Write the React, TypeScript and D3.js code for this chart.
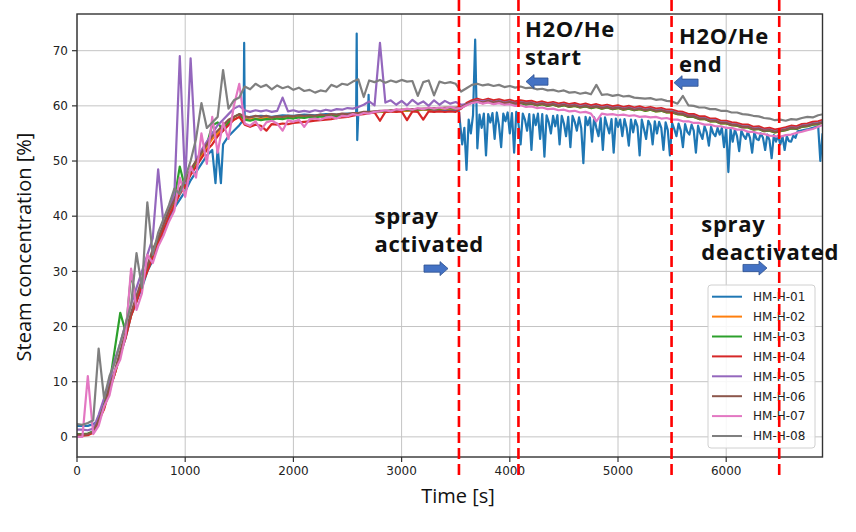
import React from 'react';
import * as d3 from 'd3';

// ---------- data ----------
const SERIES_NAMES = ['HM-H-01', 'HM-H-02', 'HM-H-03', 'HM-H-04', 'HM-H-05', 'HM-H-06', 'HM-H-07', 'HM-H-08'];
const SERIES_COLORS = ['#1f77b4', '#ff7f0e', '#2ca02c', '#d62728', '#9467bd', '#8c564b', '#e377c2', '#7f7f7f'];
const X_TICKS = [0, 1000, 2000, 3000, 4000, 5000, 6000];
const Y_TICKS = [0, 10, 20, 30, 40, 50, 60, 70];
const X_DOMAIN = [0, 6890];
const Y_DOMAIN = [-3.65, 76.65];

// common sampling grid (s) for HM-H-02..08
const GRID_START = 0;
const GRID_END = 6900;
const GRID_STEP = 50;

const H02 = [
  0.3, 0.3, 0.4, 0.8, 2.8, 5.2, 8.5, 11.5, 15, 18.5,
  22, 25, 28, 30.5, 33.5, 35.5, 38, 40.5, 42.5, 44.5,
  46, 48, 49.5, 51, 52.5, 54, 55, 56, 57, 57.5,
  58, 57.6, 57.5, 57.7, 57.6, 57.8, 57.6, 57.8, 57.7, 57.9,
  57.8, 58, 57.9, 58.1, 58, 58.2, 58.1, 58.3, 58.2, 58.4,
  58.3, 58.5, 58.5, 58.7, 58.7, 58.8, 58.9, 58.9, 59, 59,
  59.1, 59.1, 59.2, 59.2, 59.3, 59.3, 59.4, 59.4, 59.5, 59.5,
  59.5, 59.7, 60.2, 60.6, 60.8, 60.5, 60.8, 60.5, 60.7, 60.4,
  60.6, 60.3, 60.5, 60.3, 60.4, 60.1, 60.3, 60, 60.2, 59.9,
  60.1, 59.8, 60, 59.7, 59.9, 59.6, 59.8, 59.5, 59.7, 59.4,
  59.6, 59.3, 59.5, 59.2, 59.4, 59.1, 59.3, 59, 59.1, 58.8,
  58.8, 58.5, 58.4, 58, 58, 57.6, 57.6, 57.2, 57.2, 56.8,
  56.8, 56.5, 56.4, 56.1, 56.1, 55.7, 55.8, 55.4, 55.5, 55.2,
  55.4, 55.6, 55.9, 55.8, 56.2, 56.3, 56.6, 56.7, 57,
];

const H03 = [
  0.5, 0.5, 0.6, 1, 3.5, 6, 9.5, 16, 22.5, 19,
  29.5, 25, 28, 31, 33.5, 36, 38, 41, 43, 49,
  45, 48, 50, 51.5, 53, 56.5, 57, 55.5, 57, 58,
  58.5, 57.5, 57.3, 57.6, 57.4, 57.6, 57.5, 57.7, 57.6, 57.8,
  57.7, 57.9, 57.8, 58, 57.9, 58.1, 58, 58.2, 58.1, 58.3,
  58.3, 58.5, 58.5, 58.7, 58.8, 58.9, 59, 59, 59.1, 59.1,
  59.2, 59.2, 59.3, 59.3, 59.4, 59.4, 59.5, 59.5, 59.6, 59.6,
  59.5, 59.6, 60.2, 60.6, 60.8, 60.5, 60.7, 60.4, 60.6, 60.3,
  60.6, 60.3, 60.5, 60.2, 60.4, 60.1, 60.3, 60, 60.2, 59.9,
  60.1, 59.8, 60, 59.7, 59.9, 59.6, 59.8, 59.5, 59.7, 59.4,
  59.6, 59.3, 59.5, 59.2, 59.4, 59.1, 59.3, 59, 59.1, 58.8,
  58.8, 58.5, 58.4, 58, 58, 57.6, 57.6, 57.2, 57.2, 56.8,
  56.8, 56.5, 56.4, 56.1, 56.1, 55.7, 55.8, 55.4, 55.5, 55.2,
  55.4, 55.6, 55.9, 55.8, 56.2, 56.3, 56.6, 56.7, 57,
];

const H04 = [
  0.2, 0.2, 0.3, 0.8, 3, 5, 8.5, 11.5, 15, 18,
  22, 24.5, 27.5, 30, 32.5, 35, 37.5, 40, 42, 44,
  45.5, 47.5, 49, 50.5, 52, 53, 54.5, 55.5, 56.5, 57.5,
  58, 56.6, 56.2, 56.6, 56.4, 55.5, 56.7, 56.6, 56.8, 56.7,
  56.9, 57, 57.1, 57.2, 57.3, 57.4, 57.5, 57.6, 57.8, 57.9,
  58, 58.2, 58.4, 58.5, 58.7, 58.8, 57.3, 58.9, 59, 58.9,
  59, 57.4, 59, 58.9, 57.5, 59, 58.9, 59, 58.9, 59,
  58.9, 59.5, 60.5, 61, 61.3, 61, 61.3, 61, 61.2, 60.9,
  61.1, 60.8, 61, 60.8, 60.9, 60.6, 60.8, 60.5, 60.7, 60.4,
  60.6, 60.3, 60.5, 60.2, 60.4, 60.1, 60.3, 60, 60.2, 59.9,
  60.1, 59.8, 60, 59.7, 59.9, 59.6, 59.8, 59.5, 59.6, 59.3,
  59.3, 59, 58.9, 58.5, 58.5, 58.1, 58.1, 57.7, 57.7, 57.3,
  57.3, 57, 56.9, 56.6, 56.6, 56.2, 56.3, 55.9, 56, 55.7,
  55.9, 56.1, 56.4, 56.3, 56.7, 56.8, 57.1, 57.2, 57.5,
];

const H05 = [
  1.3, 1.3, 1.2, 1.5, 4, 7, 10, 14, 17, 20.5,
  24, 27, 30, 33, 36, 48.5, 38.5, 41, 44, 69,
  46, 68.6, 50, 52, 53.5, 55, 56.5, 57.5, 58.5, 59.5,
  60, 59.2, 58.9, 59.2, 59, 59.2, 58.9, 59.1, 61.5, 59,
  59.2, 58.9, 59.1, 58.9, 59.2, 59, 59.3, 59.1, 59.4, 59.3,
  59.6, 59.5, 59.8, 60.2, 60.8, 60.1, 71.4, 60.6, 61, 60.2,
  60.9, 60.1, 61.1, 60.3, 60.8, 60, 61, 60.2, 60.9, 60.4,
  60.7, 60.2, 60.3, 60.7, 61, 60.8, 61, 60.7, 60.9, 60.6,
  60.8, 60.5, 60.7, 60.5, 60.6, 60.3, 60.5, 60.2, 60.4, 60.1,
  60.3, 60, 60.2, 59.9, 60.1, 59.8, 60, 59.7, 59.9, 59.6,
  59.8, 59.5, 59.7, 59.4, 59.6, 59.3, 59.5, 59.2, 59.3, 59,
  59, 58.7, 58.6, 58.2, 58.2, 57.8, 57.8, 57.4, 57.4, 57,
  57, 56.7, 56.6, 56.3, 56.3, 55.9, 56, 55.6, 55.7, 55.4,
  55.6, 55.8, 56.1, 56, 56.4, 56.5, 56.8, 56.9, 57.2,
];

const H06 = [
  0.4, 0.4, 0.5, 0.9, 3, 5.5, 9, 12, 15.5, 19,
  22.5, 25.5, 28.5, 31, 34, 36, 38.5, 41, 43, 45,
  46.5, 48.5, 50, 51.5, 53, 54.5, 55.5, 56.5, 57.5, 58,
  58.5, 58.1, 57.9, 58.2, 58, 58.2, 57.9, 58.1, 58, 58.2,
  58.1, 58.3, 58.2, 58.3, 58.2, 58.4, 58.3, 58.5, 58.4, 58.6,
  58.5, 58.7, 58.7, 58.9, 58.9, 59, 59.1, 59.1, 59.2, 59.2,
  59.3, 59.3, 59.4, 59.4, 59.5, 59.5, 59.6, 59.6, 59.7, 59.7,
  59.7, 59.8, 60.3, 60.7, 60.9, 60.6, 60.9, 60.6, 60.8, 60.5,
  60.7, 60.4, 60.6, 60.4, 60.5, 60.2, 60.4, 60.1, 60.3, 60,
  60.2, 59.9, 60.1, 59.8, 60, 59.7, 59.9, 59.6, 59.8, 59.5,
  59.7, 59.4, 59.6, 59.3, 59.5, 59.2, 59.4, 59.1, 59.2, 58.9,
  58.9, 58.6, 58.5, 58.1, 58.1, 57.7, 57.7, 57.3, 57.3, 56.9,
  56.9, 56.6, 56.5, 56.2, 56.2, 55.8, 55.9, 55.5, 55.6, 55.3,
  55.5, 55.7, 56, 55.9, 56.3, 56.4, 56.7, 56.8, 57.1,
];

const H07 = [
  0, 0, 11, 0.5, 2, 5.5, 7.5, 12, 14, 18.5,
  30.5, 23, 26, 33, 31.5, 34.5, 36.5, 39, 41, 47,
  43.5, 49, 47, 55, 49.5, 58, 51.5, 57, 54, 60,
  64, 56.8, 56.4, 57.2, 55.6, 57, 57.3, 56.8, 55.5, 57.4,
  57.1, 57.5, 56.2, 57.6, 57.7, 57.5, 57.9, 58, 57.7, 58.2,
  58.1, 58.5, 58.3, 58.7, 58.6, 58.9, 59, 59.2, 59, 59.4,
  59.2, 59.5, 59.3, 59.6, 59.4, 59.7, 59.5, 59.7, 59.5, 59.8,
  59.5, 59.6, 60.1, 60.5, 60.7, 60.4, 60.6, 60.3, 60.5, 60.2,
  60.3, 60, 60.1, 59.8, 59.9, 59.6, 59.7, 59.4, 59.5, 59.2,
  59.3, 59, 59.1, 58.8, 58.9, 58.6, 57.2, 58.6, 58.4, 58.5,
  58.3, 58.4, 58.2, 58.3, 58, 58.1, 57.9, 58, 57.7, 57.8,
  57.5, 57.5, 57.2, 57.2, 56.9, 56.9, 56.6, 56.6, 56.3, 56.3,
  56, 56, 55.7, 55.7, 55.3, 55.3, 55, 54.9, 54.6, 54.5,
  54.4, 54.7, 54.8, 55.1, 55.3, 55.6, 55.8, 56.2, 56.6,
];

const H08 = [
  2.3, 2.2, 2.5, 3, 16, 7, 11, 13.5, 17, 20.5,
  24, 33.3, 27, 42.5, 33, 37, 39.5, 42, 45, 44,
  47, 50, 54, 60.5, 56, 57, 58, 66.5, 59.5, 61,
  61.5, 63.5, 63, 64, 63.4, 63.8, 63, 63.7, 63.2, 63.5,
  62.9, 63.3, 62.7, 62.9, 62.4, 62.8, 62.6, 63.8, 63.4, 64,
  63.8, 64.4, 64.8, 61.6, 64.6, 64.3, 64.7, 64.2, 64.6, 64.3,
  64.7, 64.4, 64.5, 61.8, 64.3, 64.6, 61.9, 64.4, 64.1, 64.3,
  64, 62.6, 63.2, 63.8, 64, 63.7, 63.9, 63.6, 63.8, 63.4,
  63.6, 63.3, 63.5, 63.2, 63.3, 63, 63.1, 62.8, 62.9, 62.6,
  62.8, 62.4, 62.5, 62.2, 62.4, 62.1, 63.8, 62, 62.1, 61.8,
  62, 61.7, 61.8, 61.5, 61.4, 61.3, 61.4, 61.1, 61.2, 60.9,
  60.8, 60.4, 61.8, 60.1, 60, 59.7, 59.7, 59.4, 59.4, 59.1,
  59.1, 58.8, 58.8, 58.5, 58.4, 58.2, 58.1, 57.8, 57.7, 57.4,
  57.5, 57.3, 57.6, 57.5, 57.8, 58, 57.9, 58.3, 58.5,
];

// HM-H-01 before the spray (own time stamps)
const H01_PRE_T = [
  0, 50, 100, 150, 200, 250, 300, 350, 400, 450, 500, 550, 600, 650, 700, 750, 800, 850, 900, 950,
  1000, 1050, 1100, 1150, 1200, 1250, 1280, 1300, 1330, 1350, 1400, 1450, 1500, 1540, 1545, 1550,
  1600, 1700, 1800, 1900, 2000, 2100, 2200, 2300, 2400, 2500, 2580, 2585, 2590, 2600, 2690, 2695, 2700,
  2800, 2900, 3000, 3100, 3200, 3300, 3400, 3500, 3530,
];
const H01_PRE_V = [
  2, 2, 2, 2.3, 3, 5.5, 8.5, 11.5, 15, 18, 22, 24.5, 27, 30, 32, 35, 37, 39.5, 41.5, 43,
  44.5, 46.5, 48, 49.5, 51, 52, 46, 52.5, 46, 53, 54.5, 55.5, 56.5, 57.5, 71.4, 57.5,
  58, 58.2, 58, 58.3, 58.2, 58.4, 58.3, 58.5, 58.4, 58.6, 58.6, 73.1, 53.8, 58.7, 58.8, 62, 58.8,
  59, 59, 59.2, 59.1, 59.3, 59.2, 59.3, 59.2, 59,
];
// HM-H-01 during the spray, sampled every 20 s from 3540 s
const H01_SPRAY_START = 3540;
const H01_SPRAY_STEP = 20;
const H01_SPRAY_V = [
  57, 53, 56, 48.4, 57.5, 55, 58.3, 72, 52.3, 58.4, 56, 58.6, 51, 58.5, 57,
  58.7, 54, 58.8, 56.5, 52.5, 58.6, 57.2, 58.8, 55, 58.7, 51.5, 58.9, 56.8, 53, 58.6,
  57.5, 55.5, 58.5, 52, 58.4, 56.5, 58.6, 54, 58.5, 50.8, 58.3, 57, 55, 58.2, 56.3,
  58.3, 53, 58.2, 56.8, 54.5, 58, 52.5, 58.2, 57.1, 55.5, 57.9, 56, 49.6, 58, 56.5,
  57.9, 53.5, 57.9, 56, 54.5, 57.8, 52, 57.9, 56.4, 55, 57.6, 51.5, 57.7, 56.2, 57.5,
  54.5, 57.6, 56, 52.8, 57.5, 55.2, 57.4, 56.3, 51, 57.5, 55.8, 54, 57.3, 56.5, 53,
  57.2, 55, 57.1, 56, 52, 57, 55.6, 51, 56.9, 55.8, 54.5, 56.8, 55.5, 52.5, 56.7,
  55.3, 54.8, 56.6, 55.5, 51.5, 56.4, 55, 54, 56.3, 55.2, 52.8, 56.2, 55, 54.5, 56,
  54.8, 56, 52.5, 55.9, 48, 55.8, 53.5, 55.7, 54.5, 51.8, 55.5, 54.6, 54, 55.3, 54.2,
  51.5, 55.2, 54, 53.8, 55, 54.2, 52, 54.8, 53.8, 50.5, 54.7, 53.5, 54.6, 53, 54.5,
  52, 54.5, 53.6, 53.5, 54.6, 54.2,
];
const H01_POST_T = [6660, 6760, 6850, 6870, 6890];
const H01_POST_V = [55.4, 55.8, 56.3, 50, 55];

// event lines (s)
const EVENT_TIMES = [3530, 4080, 5495, 6490];

// annotations in data units (time of left edge, value of first baseline)
const ANNOT_TEXTS = [
  { lines: ['spray', 'activated'], t: 2750, v: 38.6 },
  { lines: ['H2O/He', 'start'], t: 4140, v: 72.5 },
  { lines: ['H2O/He', 'end'], t: 5564, v: 71.3 },
  { lines: ['spray', 'deactivated'], t: 5770, v: 37.2 },
];
const ANNOT_ARROWS = [
  { from: 3207, to: 3429, v: 30.5 },
  { from: 4353, to: 4150, v: 64.4 },
  { from: 5740, to: 5518, v: 64.2 },
  { from: 6155, to: 6377, v: 30.6 },
];

// ---------- layout ----------
const W = 856;
const H = 532;
const PL = 77;
const PR = 822.5;
const PT = 14;
const PB = 457;

export default function App() {
  const x = d3.scaleLinear().domain(X_DOMAIN).range([PL, PR]);
  const y = d3.scaleLinear().domain(Y_DOMAIN).range([PB, PT]);

  const gridT = d3.range(GRID_START, GRID_END + 1, GRID_STEP);
  const gridSeries = [H02, H03, H04, H05, H06, H07, H08];

  const h01: [number, number][] = [];
  H01_PRE_T.forEach((t, i) => h01.push([t, H01_PRE_V[i]]));
  H01_SPRAY_V.forEach((v, i) => h01.push([H01_SPRAY_START + i * H01_SPRAY_STEP, v]));
  H01_POST_T.forEach((t, i) => h01.push([t, H01_POST_V[i]]));

  const allSeries: [number, number][][] = [
    h01,
    ...gridSeries.map((vals) => vals.map((v, i) => [gridT[i], v] as [number, number])),
  ];

  const line = d3
    .line<[number, number]>()
    .x((d) => x(d[0]))
    .y((d) => y(d[1]));

  const tickFont = 'DejaVu Sans, sans-serif';
  const labelFont = '"Open Sans", "Noto Sans", sans-serif';

  const arrowPath = (from: number, to: number, v: number) => {
    const x0 = x(from);
    const x1 = x(to);
    const yc = y(v);
    const dir = x1 > x0 ? 1 : -1;
    const headLen = 8;
    const bh = 3.6;
    const hh = 7;
    const xb = x1 - dir * headLen;
    return `M${x0},${yc - bh} L${xb},${yc - bh} L${xb},${yc - hh} L${x1},${yc} L${xb},${yc + hh} L${xb},${yc + bh} L${x0},${yc + bh} Z`;
  };

  const legX = 708;
  const legY = 285;
  const legW = 107;
  const legH = 163;
  const legRow = 19.9;

  return (
    <svg width={W} height={H} style={{ position: 'absolute', left: 0, top: 0, background: '#fff' }}>
      <defs>
        <clipPath id="plotClip">
          <rect x={PL} y={PT} width={PR - PL} height={PB - PT} />
        </clipPath>
      </defs>
      <rect x={0} y={0} width={W} height={H} fill="#fff" />

      {X_TICKS.map((t) => (
        <line key={'gx' + t} x1={x(t)} x2={x(t)} y1={PT} y2={PB} stroke="#c4c4c4" strokeWidth={1} />
      ))}
      {Y_TICKS.map((v) => (
        <line key={'gy' + v} x1={PL} x2={PR} y1={y(v)} y2={y(v)} stroke="#c4c4c4" strokeWidth={1} />
      ))}

      <g clipPath="url(#plotClip)">
        {allSeries.map((s, i) => (
          <path
            key={SERIES_NAMES[i]}
            d={line(s) || ''}
            fill="none"
            stroke={SERIES_COLORS[i]}
            strokeWidth={2.2}
            strokeLinejoin="round"
          />
        ))}
      </g>

      <rect x={PL} y={PT} width={PR - PL} height={PB - PT} fill="none" stroke="#333" strokeWidth={1.4} />

      {X_TICKS.map((t) => (
        <g key={'tx' + t}>
          <line x1={x(t)} x2={x(t)} y1={PB} y2={PB + 5} stroke="#333" strokeWidth={1.2} />
          <text x={x(t)} y={PB + 18} textAnchor="middle" fontFamily={tickFont} fontSize={12} fill="#222">
            {t}
          </text>
        </g>
      ))}
      {Y_TICKS.map((v) => (
        <g key={'ty' + v}>
          <line x1={PL - 5} x2={PL} y1={y(v)} y2={y(v)} stroke="#333" strokeWidth={1.2} />
          <text x={PL - 9} y={y(v)} dy="0.35em" textAnchor="end" fontFamily={tickFont} fontSize={12} fill="#222">
            {v}
          </text>
        </g>
      ))}

      <text x={458} y={503} textAnchor="middle" fontFamily={labelFont} fontSize={20} fill="#111">
        Time [s]
      </text>
      <text
        transform={`translate(31, 247) rotate(-90)`}
        textAnchor="middle"
        fontFamily={labelFont}
        fontSize={20}
        fill="#111"
      >
        Steam concentration [%]
      </text>

      <rect x={legX} y={legY} width={legW} height={legH} rx={3} fill="#fff" fillOpacity={0.85} stroke="#d0d0d0" strokeWidth={1} />
      {SERIES_NAMES.map((n, i) => {
        const cy = legY + 11.7 + i * legRow;
        return (
          <g key={'lg' + n}>
            <line x1={legX + 4} x2={legX + 34} y1={cy} y2={cy} stroke={SERIES_COLORS[i]} strokeWidth={2} />
            <text x={legX + 45} y={cy} dy="0.36em" fontFamily={tickFont} fontSize={12} fill="#222">
              {n}
            </text>
          </g>
        );
      })}

      {EVENT_TIMES.map((t) => (
        <line key={'ev' + t} x1={x(t)} x2={x(t)} y1={0} y2={477} stroke="#ff0000" strokeWidth={2.6} strokeDasharray="11,5" />
      ))}

      {ANNOT_TEXTS.map((a, i) =>
        a.lines.map((l, j) => (
          <text
            key={'an' + i + '-' + j}
            x={x(a.t)}
            y={y(a.v) + j * 28}
            fontFamily={labelFont}
            fontWeight="bold"
            fontSize={22}
            letterSpacing={0.7}
            fill="#111"
          >
            {l}
          </text>
        ))
      )}
      {ANNOT_ARROWS.map((a, i) => (
        <path key={'ar' + i} d={arrowPath(a.from, a.to, a.v)} fill="#4472c4" stroke="#2f528f" strokeWidth={0.8} />
      ))}
    </svg>
  );
}
